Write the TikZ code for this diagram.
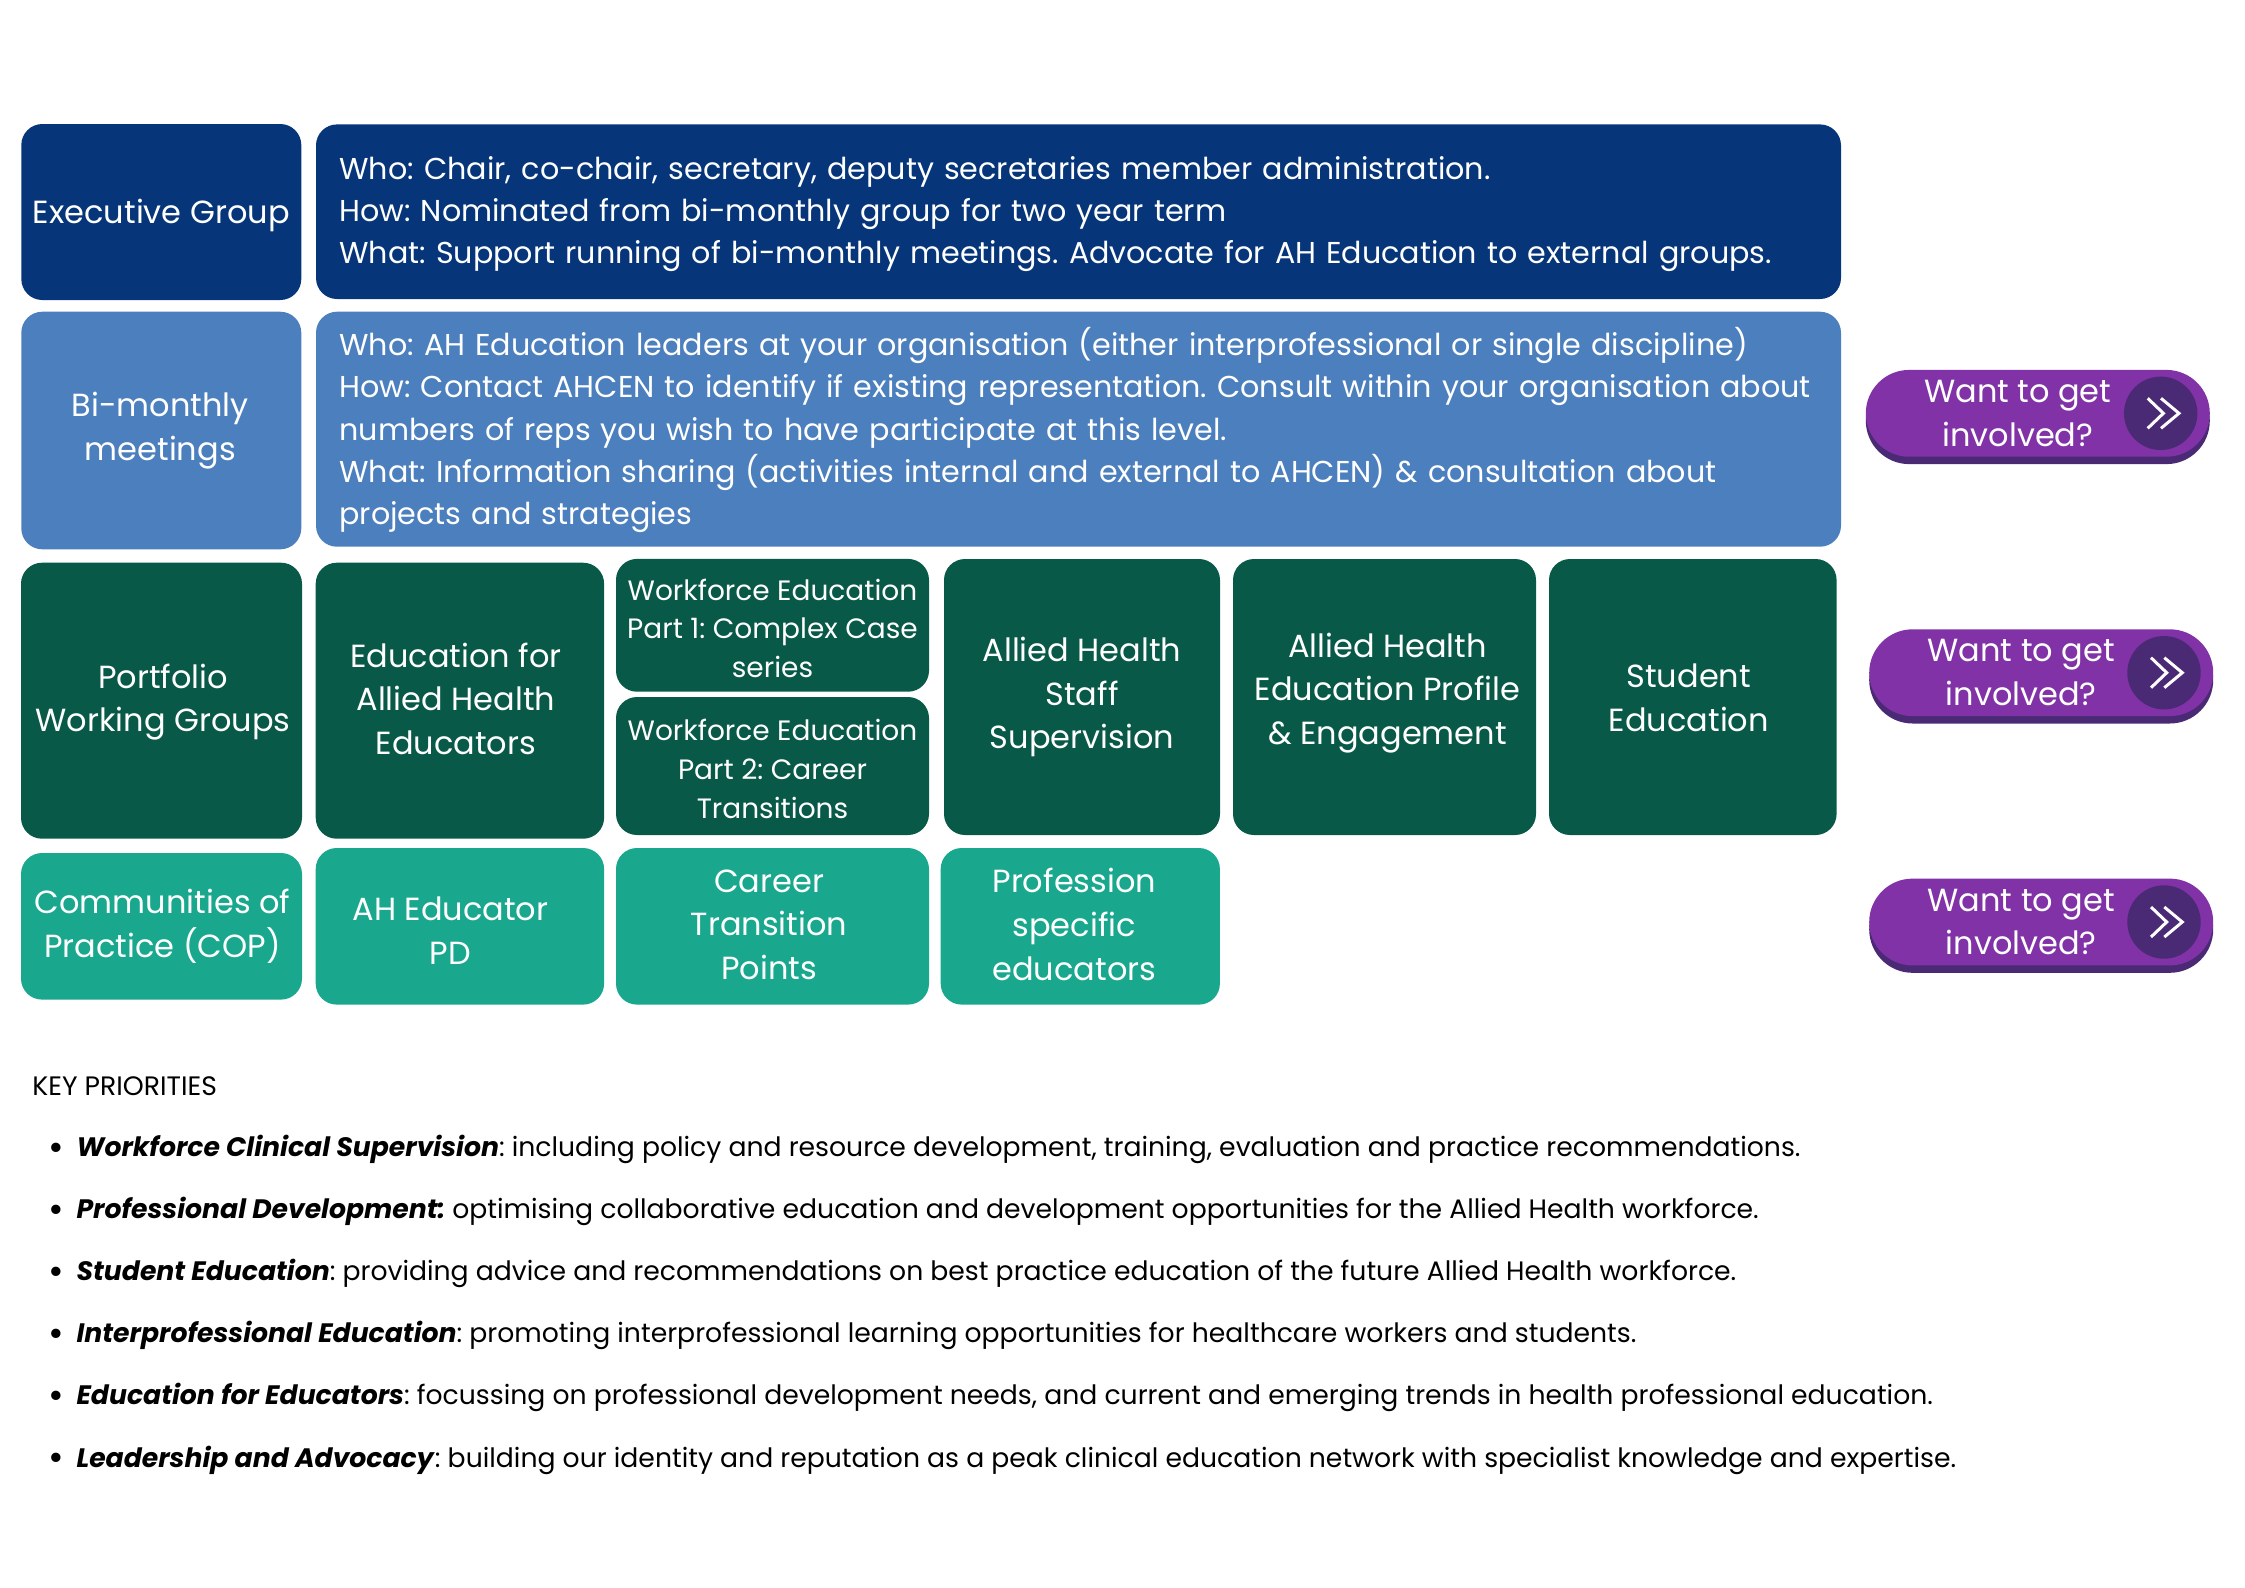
\documentclass[tikz,border=0pt]{standalone}
\usepackage{fontspec}
\setmainfont{Poppins}
\usetikzlibrary{shadows}
\frenchspacing
\definecolor{execblue}{RGB}{6,53,122}
\definecolor{bimonthblue}{RGB}{76,127,189}
\definecolor{workgreen}{RGB}{8,89,72}
\definecolor{copteal}{RGB}{25,168,142}
\definecolor{pillpurple}{RGB}{128,50,166}
\definecolor{pilldark}{RGB}{75,42,117}
\newcommand{\priodot}{\raisebox{-1.9pt}{\fontsize{19}{15}\selectfont\textbullet}\hspace{6pt}}
\tikzset{
  tile/.style={rounded corners=10.5pt, inner sep=0pt, text=white, align=center, font=\fontsize{16}{21.8}\selectfont},
  smalltile/.style={tile, font=\fontsize{14}{19.4}\selectfont},
  infotile/.style={tile, align=left, text width=739pt, font=\fontsize{15.09}{21.1}\selectfont},
  nudge/.style={execute at begin node={\kern#1}},
  drop/.style={execute at begin node={\vbox\bgroup\kern#1\hbox\bgroup}, execute at end node={\egroup\egroup}},
  lift/.style={execute at begin node={\vbox\bgroup\hbox\bgroup}, execute at end node={\egroup\kern#1\egroup}},
  topline/.style={execute at begin node={\rule{0pt}{#1}}},
  pill/.style={rounded corners=21.7pt, fill=pillpurple, inner sep=0pt, minimum width=172pt, minimum height=43.4pt,
    text=white, align=center, font=\fontsize{16}{21.8}\selectfont,
    drop shadow={shadow xshift=0pt, shadow yshift=-3.7pt, opacity=1, fill=pilldark}},
  gobtn/.style={circle, fill=pilldark, inner sep=0pt, minimum size=36.7pt},
  priotext/.style={inner sep=0pt, anchor=west, font=\fontsize{13.33}{15}\selectfont},
  chevrons/.pic={
    \draw[white, line width=1.5pt] (-13,-15) -- (2.7,0) -- (-13,15);
    \draw[white, line width=1.5pt] (0.3,-15) -- (18.3,0) -- (0.3,15);
  }
}
\begin{document}
\begin{tikzpicture}[x=0.5pt,y=-0.5pt]
    \useasboundingbox (0,0) rectangle (2245,1587);

    \node[tile, drop=3pt, fill=execblue, minimum width=140pt, minimum height=88pt] (exec) at (161.3,212) {Executive Group};
    \node[infotile, topline=14pt, fill=execblue, minimum width=762.5pt, minimum height=87.3pt] (execinfo) at (1078.5,211.7) {Who: Chair, co-chair, secretary, deputy secretaries member administration.\\
      How: Nominated from bi-monthly group for two year term\\
      What: Support running of bi-monthly meetings. Advocate for AH Education to external groups.};

    \node[tile, nudge=-1pt, fill=bimonthblue, minimum width=140pt, minimum height=118.8pt] (bimonth) at (161.3,430.5) {Bi-monthly\\meetings};
    \node[infotile, topline=15pt, fill=bimonthblue, minimum width=762.5pt, minimum height=117.5pt] (bimonthinfo) at (1078.5,429.2) {Who: AH Education leaders at your organisation (either interprofessional or single discipline)\\
      How: Contact AHCEN to identify if existing representation. Consult within your organisation about\\
      numbers of reps you wish to have participate at this level.\\
      What: Information sharing (activities internal and external to AHCEN) \& consultation about\\
      projects and strategies};

    \node[tile, nudge=1.5pt, drop=1.5pt, fill=workgreen, minimum width=140.5pt, minimum height=138pt] (portfolio) at (161.5,700.7) {Portfolio\\Working Groups};
    \node[tile, nudge=-4pt, lift=2pt, fill=workgreen, minimum width=144.2pt, minimum height=138pt] (eduah) at (459.9,700.7) {Education for\\Allied Health\\Educators};
    \node[smalltile, drop=3pt, fill=workgreen, minimum width=156.5pt, minimum height=66.4pt] (wfone) at (772.5,625.3) {Workforce Education\\Part 1: Complex Case\\series};
    \node[smalltile, drop=3pt, fill=workgreen, minimum width=156.5pt, minimum height=69pt] (wftwo) at (772.5,766) {Workforce Education\\Part 2: Career\\Transitions};
    \node[tile, fill=workgreen, minimum width=138pt, minimum height=138pt] (staff) at (1082,697) {Allied Health\\Staff\\Supervision};
    \node[tile, nudge=3pt, lift=4pt, fill=workgreen, minimum width=151.5pt, minimum height=138pt] (profile) at (1384.5,697) {Allied Health\\Education Profile\\\& Engagement};
    \node[tile, nudge=-4pt, drop=1pt, fill=workgreen, minimum width=143.8pt, minimum height=138pt] (student) at (1692.8,697) {Student\\Education};

    \node[tile, nudge=1pt, fill=copteal, minimum width=140.5pt, minimum height=73.3pt] (cop) at (161.5,926.3) {Communities of\\Practice (COP)};
    \node[tile, nudge=-9.5pt, drop=4.5pt, fill=copteal, minimum width=144.2pt, minimum height=78.3pt] (ahpd) at (459.9,926.3) {AH Educator\\PD};
    \node[tile, nudge=-3.5pt, lift=1.5pt, fill=copteal, minimum width=156.5pt, minimum height=78.3pt] (career) at (772.5,926.3) {Career\\Transition\\Points};
    \node[tile, nudge=-6pt, lift=2pt, fill=copteal, minimum width=139.6pt, minimum height=78.3pt] (profspec) at (1080.3,926.3) {Profession\\specific\\educators};

    \node[pill, nudge=-20pt] (wantone) at (2037.8,413.3) {Want to get\\involved?};
    \node[gobtn] (goone) at (2160.7,413.3) {};
    \pic at (goone) {chevrons};
    \node[pill, nudge=-20pt] (wanttwo) at (2041.2,672.7) {Want to get\\involved?};
    \node[gobtn] (gotwo) at (2164,672.7) {};
    \pic at (gotwo) {chevrons};
    \node[pill, nudge=-20pt] (wantthree) at (2041.2,922) {Want to get\\involved?};
    \node[gobtn] (gothree) at (2164,922) {};
    \pic at (gothree) {chevrons};

    \node[priotext] (keyhead) at (32,1086) {KEY PRIORITIES};
    \node[priotext] (prioa) at (48.5,1149.4) {\priodot\textbf{\textit{Workforce Clinical Supervision}}: including policy and resource development, training, evaluation and practice recommendations.};
    \node[priotext] (priob) at (48.5,1211.5) {\priodot\textbf{\textit{Professional Development:}} optimising collaborative education and development opportunities for the Allied Health workforce.};
    \node[priotext] (prioc) at (48.5,1273.6) {\priodot\textbf{\textit{Student Education}}: providing advice and recommendations on best practice education of the future Allied Health workforce.};
    \node[priotext] (priod) at (48.5,1335.7) {\priodot\textbf{\textit{Interprofessional Education}}: promoting interprofessional learning opportunities for healthcare workers and students.};
    \node[priotext] (prioe) at (48.5,1397.8) {\priodot\textbf{\textit{Education for Educators}}: focussing on professional development needs, and current and emerging trends in health professional education.};
    \node[priotext] (priof) at (48.5,1459.9) {\priodot\textbf{\textit{Leadership and Advocacy}}: building our identity and reputation as a peak clinical education network with specialist knowledge and expertise.};
\end{tikzpicture}
\end{document}
